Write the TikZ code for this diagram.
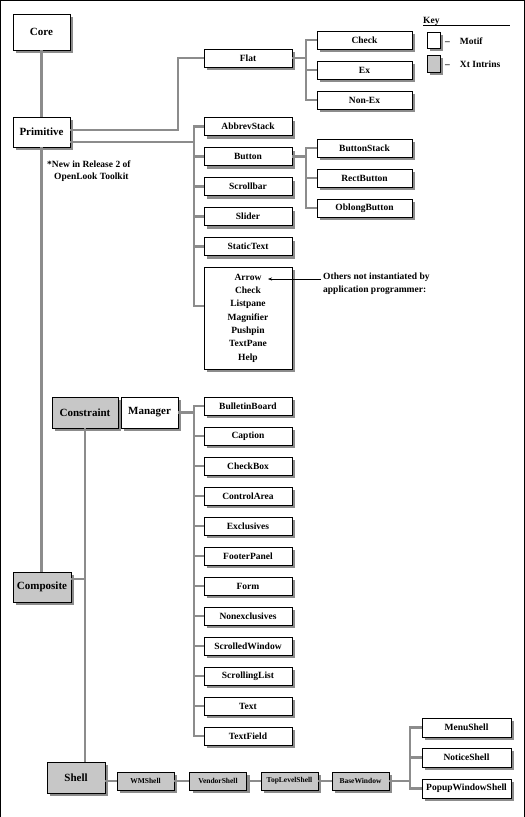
\documentclass[tikz,border=0pt]{standalone}
\usepackage{fontspec}
\setmainfont{Liberation Serif}
\usetikzlibrary{shadows,arrows.meta}

\begin{document}
\begin{tikzpicture}[x=1pt, y=-1pt,
                box/.style = {draw, fill=white, inner sep=0pt,
                              font=\bfseries\fontsize{9.5}{10}\selectfont,
                              drop shadow={shadow xshift=3pt, shadow yshift=-3pt, fill=black!45, opacity=1}},
                xt/.style = {box, fill=black!22},
                big/.style = {minimum width=57pt, minimum height=30pt,
                              font=\bfseries\fontsize{11}{12}\selectfont},
                wide/.style = {minimum width=88pt, minimum height=18pt},
                leaf/.style = {minimum width=95pt, minimum height=18pt},
                chainbox/.style = {minimum width=57pt, minimum height=18pt,
                              font=\bfseries\fontsize{7.5}{8}\selectfont},
                remark/.style = {anchor=west, inner sep=0pt, align=left,
                              font=\bfseries\fontsize{9.5}{13}\selectfont},
                link/.style = {draw=black!45, line width=2.4pt}
                ]
                \useasboundingbox (0,0) rectangle (525,817);
                \draw (0.5,817) -- (0.5,0.5) -- (524,0.5) -- (524,817);

                % left column
                \node[box, big, minimum height=36pt] (core) at (41.5,32) {Core};
                \node[box, big] (primitive) at (41.5,132) {Primitive};
                \node[xt, big, minimum width=58pt] (composite) at (42,587) {Composite};
                \node[xt, big, minimum width=66pt, minimum height=31pt] (constraint) at (85,412.5) {Constraint};
                \node[box, big, minimum height=31pt] (manager) at (149.5,412.5) {Manager};
                \node[xt, big, minimum width=58pt, minimum height=31pt] (shell) at (76,777.5) {Shell};

                % primitive widgets
                \node[box, wide] (flat) at (248,58) {Flat};
                \node[box, wide] (abbrev) at (248,126.5) {AbbrevStack};
                \node[box, wide] (button) at (248,156.5) {Button};
                \node[box, wide] (scrollbar) at (248,186.5) {Scrollbar};
                \node[box, wide] (slider) at (248,216.5) {Slider};
                \node[box, wide] (statictext) at (248,246.5) {StaticText};
                \node[box, minimum width=88pt, minimum height=102pt, align=center,
                      font=\bfseries\fontsize{9.5}{13.3}\selectfont] (others) at (248,318)
                      {Arrow\\Check\\Listpane\\Magnifier\\Pushpin\\TextPane\\Help};

                \node[box, leaf] (check) at (364.5,40) {Check};
                \node[box, leaf] (ex) at (364.5,70) {Ex};
                \node[box, leaf] (nonex) at (364.5,100) {Non-Ex};
                \node[box, leaf] (buttonstack) at (364.5,148) {ButtonStack};
                \node[box, leaf] (rectbutton) at (364.5,178) {RectButton};
                \node[box, leaf] (oblongbutton) at (364.5,208) {OblongButton};

                % manager widgets
                \node[box, wide] (bulletinboard) at (248,406) {BulletinBoard};
                \node[box, wide] (caption) at (248,436) {Caption};
                \node[box, wide] (checkbox) at (248,466) {CheckBox};
                \node[box, wide] (controlarea) at (248,496) {ControlArea};
                \node[box, wide] (exclusives) at (248,526) {Exclusives};
                \node[box, wide] (footerpanel) at (248,556) {FooterPanel};
                \node[box, wide] (form) at (248,586) {Form};
                \node[box, wide] (nonexclusives) at (248,616) {Nonexclusives};
                \node[box, wide] (scrolledwindow) at (248,646) {ScrolledWindow};
                \node[box, wide] (scrollinglist) at (248,676) {ScrollingList};
                \node[box, wide] (text) at (248,706) {Text};
                \node[box, wide] (textfield) at (248,736) {TextField};

                % shells
                \node[xt, chainbox] (wmshell) at (145.5,781) {WMShell};
                \node[xt, chainbox] (vendorshell) at (218,781) {VendorShell};
                \node[xt, chainbox] (toplevelshell) at (289.5,781) {TopLevelShell};
                \node[xt, chainbox] (basewindow) at (360.5,781) {BaseWindow};
                \node[box, minimum width=89pt, minimum height=19pt] (menushell) at (466.5,727.5) {MenuShell};
                \node[box, minimum width=89pt, minimum height=19pt] (noticeshell) at (466.5,757.5) {NoticeShell};
                \node[box, minimum width=89pt, minimum height=19pt] (popupshell) at (466.5,788.5) {PopupWindowShell};

                % connectors
                \draw[link] (core) -- (primitive);
                \draw[link] (primitive.south) -- (primitive.south |- composite.north);
                \draw[link] ([yshift=2pt]primitive.east) -| ([xshift=-26pt]flat.west) -- (flat.west);

                \coordinate (pspine) at ([xshift=-10pt]abbrev.west);
                \draw[link] ([yshift=-10pt]primitive.east) -| (pspine) -- (abbrev.west);
                \draw[link] (pspine) |- (button.west);
                \draw[link] (pspine) |- (scrollbar.west);
                \draw[link] (pspine) |- (slider.west);
                \draw[link] (pspine) |- (statictext.west);
                \draw[link] (pspine) |- ([yshift=12pt]others.west);

                \coordinate (fspine) at ([xshift=-11pt]check.west);
                \draw[link] (flat.east) -| (fspine) -- (check.west);
                \draw[link] (fspine) |- (ex.west);
                \draw[link] (fspine) |- (nonex.west);

                \coordinate (bspine) at ([xshift=-11pt]buttonstack.west);
                \draw[link] (button.east) -| (bspine) -- (buttonstack.west);
                \draw[link] (bspine) |- (rectbutton.west);
                \draw[link] (bspine) |- (oblongbutton.west);

                \coordinate (mspine) at ([xshift=-10pt]bulletinboard.west);
                \draw[link] (manager.east) -| (mspine) -- (bulletinboard.west);
                \draw[link] (mspine) |- (caption.west);
                \draw[link] (mspine) |- (checkbox.west);
                \draw[link] (mspine) |- (controlarea.west);
                \draw[link] (mspine) |- (exclusives.west);
                \draw[link] (mspine) |- (footerpanel.west);
                \draw[link] (mspine) |- (form.west);
                \draw[link] (mspine) |- (nonexclusives.west);
                \draw[link] (mspine) |- (scrolledwindow.west);
                \draw[link] (mspine) |- (scrollinglist.west);
                \draw[link] (mspine) |- (text.west);
                \draw[link] (mspine) |- (textfield.west);

                \draw[link] (constraint.south) -- (constraint.south |- shell.north);
                \coordinate (cjoin) at ([yshift=8pt]composite.east);
                \draw[link] (cjoin) -- (cjoin -| constraint.south);

                \draw[link] (shell.east |- wmshell.west) -- (wmshell.west);
                \draw[link] (wmshell) -- (vendorshell);
                \draw[link] (vendorshell) -- (toplevelshell);
                \draw[link] (toplevelshell) -- (basewindow);
                \coordinate (sspine) at ([xshift=-12pt]menushell.west);
                \draw[link] (basewindow.east) -| (sspine) -- (menushell.west);
                \draw[link] (sspine) |- (noticeshell.west);
                \draw[link] (sspine) |- (popupshell.west);

                % notes and key
                \node[remark] (release) at (47,164) {*New in Release 2 of};
                \node[remark] (toolkit) at (54,177) {OpenLook Toolkit};
                \node[remark, anchor=north west] (note) at (323,273) {Others not instantiated by\\application programmer:};
                \coordinate (arrowtip) at ([xshift=20pt,yshift=39pt]others.center);
                \coordinate (notestart) at ([xshift=-2pt,yshift=-6pt]note.north west);
                \draw[-{Stealth[length=4pt]}] (notestart) -- (arrowtip);

                \node[remark] (key) at (423,21) {Key};
                \draw (key.south west) -- ++(87,0);
                \node[box, minimum width=13pt, minimum height=16pt] (keymotif) at (433.5,40) {};
                \node[xt, minimum width=13pt, minimum height=17pt] (keyxt) at (433.5,63.5) {};
                \node[remark] (motiflabel) at (445,41) {--\hspace{10pt}Motif};
                \node[remark] (xtlabel) at (445,64) {--\hspace{10pt}Xt Intrins};
            \end{tikzpicture}
\end{document}
